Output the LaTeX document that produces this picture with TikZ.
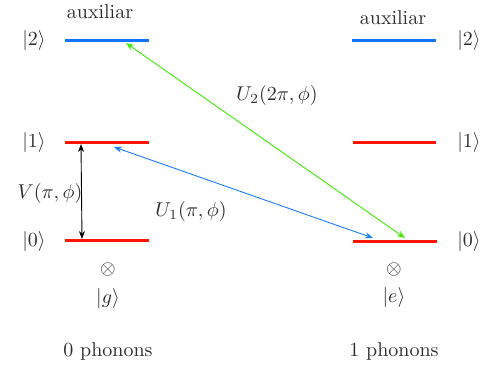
\documentclass[tikz,border=0pt]{standalone}
\usetikzlibrary{arrows.meta}
\definecolor{lvlblue}{RGB}{20,115,255}
\definecolor{lvlred}{RGB}{255,20,0}
\definecolor{arrgreen}{RGB}{60,235,0}
\definecolor{arrblue}{RGB}{25,125,255}
\definecolor{txt}{RGB}{45,45,45}
\begin{document}
\begin{tikzpicture}[x=0.5pt,y=-0.5pt,
  lvl/.style={line width=1.5pt},
  lbl/.style={text=txt,inner sep=0pt},
  trans/.style={line width=0.45pt,{Stealth[length=4pt,width=3pt]}-{Stealth[length=4pt,width=3pt]}}]
\useasboundingbox (0,0) rectangle (494,370);
% left levels
\coordinate (L2a) at (65,40); \coordinate (L2b) at (149,40);
\coordinate (L1a) at (65,142); \coordinate (L1b) at (149,142);
\coordinate (L0a) at (65,240); \coordinate (L0b) at (149,240);
\draw[lvl,lvlblue] (L2a) -- (L2b);
\draw[lvl,lvlred] (L1a) -- (L1b);
\draw[lvl,lvlred] (L0a) -- (L0b);
% right levels
\coordinate (R2a) at (352,40); \coordinate (R2b) at (436,40);
\coordinate (R1a) at (353,142); \coordinate (R1b) at (436,142);
\coordinate (R0a) at (353,241); \coordinate (R0b) at (437,241);
\draw[lvl,lvlblue] (R2a) -- (R2b);
\draw[lvl,lvlred] (R1a) -- (R1b);
\draw[lvl,lvlred] (R0a) -- (R0b);
% labels left
\node[lbl] (aL) at (100,12) {auxiliar};
\node[lbl] (k2L) at (34,40) {$|2\rangle$};
\node[lbl] (k1L) at (34,142) {$|1\rangle$};
\node[lbl] (k0L) at (34,241) {$|0\rangle$};
\node[lbl] (oL) at (108,269) {$\otimes$};
\node[lbl] (gL) at (108,298) {$|g\rangle$};
\node[lbl] (pL) at (108,351) {0 phonons};
% labels right
\node[lbl] (aR) at (393,18) {auxiliar};
\node[lbl] (k2R) at (469,40) {$|2\rangle$};
\node[lbl] (k1R) at (469,142) {$|1\rangle$};
\node[lbl] (k0R) at (469,241) {$|0\rangle$};
\node[lbl] (oR) at (394,269) {$\otimes$};
\node[lbl] (eR) at (394,297) {$|e\rangle$};
\node[lbl] (pR) at (394,351) {1 phonons};
% transitions
\coordinate (v1) at (81,144); \coordinate (v0) at (82,239);
\draw[trans,black] (v1) -- (v0);
\node[lbl] (V) at (50,193) {$V(\pi,\phi)$};
\coordinate (b1) at (114,147); \coordinate (b2) at (373,238);
\draw[trans,arrblue] (b1) -- (b2);
\node[lbl] (U1) at (191,211) {$U_1(\pi,\phi)$};
\coordinate (g1) at (126,43); \coordinate (g2) at (405,238);
\draw[trans,arrgreen] (g1) -- (g2);
\node[lbl] (U2) at (277,95) {$U_2(2\pi,\phi)$};
\end{tikzpicture}
\end{document}
